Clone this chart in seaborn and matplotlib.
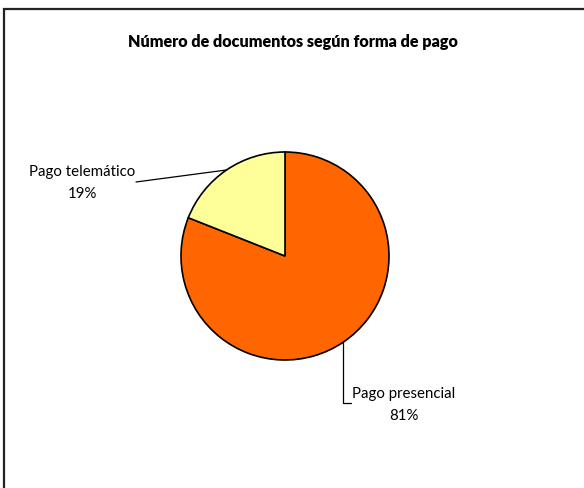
import numpy as np
import matplotlib as mpl
import matplotlib.pyplot as plt
import seaborn as sns
import pandas as pd

target_file = 'out.png'

categories = ['Pago presencial', 'Pago telemático']
shares = [81, 19]
colors = ['#FF6600', '#FFFF99']
title = 'Número de documentos según forma de pago'

sns.set_theme(style='white')
plt.rcParams['font.family'] = ['Lato', 'DejaVu Sans']

df = pd.DataFrame({'forma': categories, 'pct': shares})

W, H = 584, 488
fig = plt.figure(figsize=(W / 100, H / 100), dpi=100)
ax = fig.add_axes([0, 0, 1, 1])
ax.set_aspect('equal')
ax.axis('off')

# pie center/radius in pixels (y measured from top)
cx, cy, r = 285, 256, 104
wedges, _ = ax.pie(
    df['pct'], colors=colors, startangle=90, counterclock=False,
    radius=r, center=(cx, H - cy),
    wedgeprops=dict(edgecolor='black', linewidth=1.2),
)
ax.set_ylim(0, H)
ax.set_xlim(0, W)

def edge_point(w):
    mid = np.deg2rad((w.theta1 + w.theta2) / 2)
    return cx + r * np.cos(mid), (H - cy) + r * np.sin(mid)

# presencial label: vertical leader then small tick
px, py = edge_point(wedges[0])
ax.plot([px, px, px + 8], [py, H - 403, H - 403], color='black', lw=0.9)
ax.text(404, H - 405, f"{df['forma'][0]}\n{df['pct'][0]}%", ha='center', va='center',
        fontsize=10.8, linespacing=1.7, color='black')

# telemático label
tx, ty = edge_point(wedges[1])
ax.plot([136, tx], [H - 182, ty], color='black', lw=0.9)
ax.text(82, H - 183, f"{df['forma'][1]}\n{df['pct'][1]}%", ha='center', va='center',
        fontsize=10.8, linespacing=1.75, color='black')

fig.text(293 / W, 1 - 42 / H, title, ha='center', va='center', fontsize=11.6,
         fontweight='heavy', color='black')

# chart frame
frame = mpl.patches.Rectangle((3.5 / W, -0.1), 1.2, 1 - 8.5 / H + 0.1, transform=fig.transFigure,
                              fill=False, edgecolor='#222222', linewidth=1.6)
fig.patches.append(frame)

plt.savefig(target_file, dpi=100)
